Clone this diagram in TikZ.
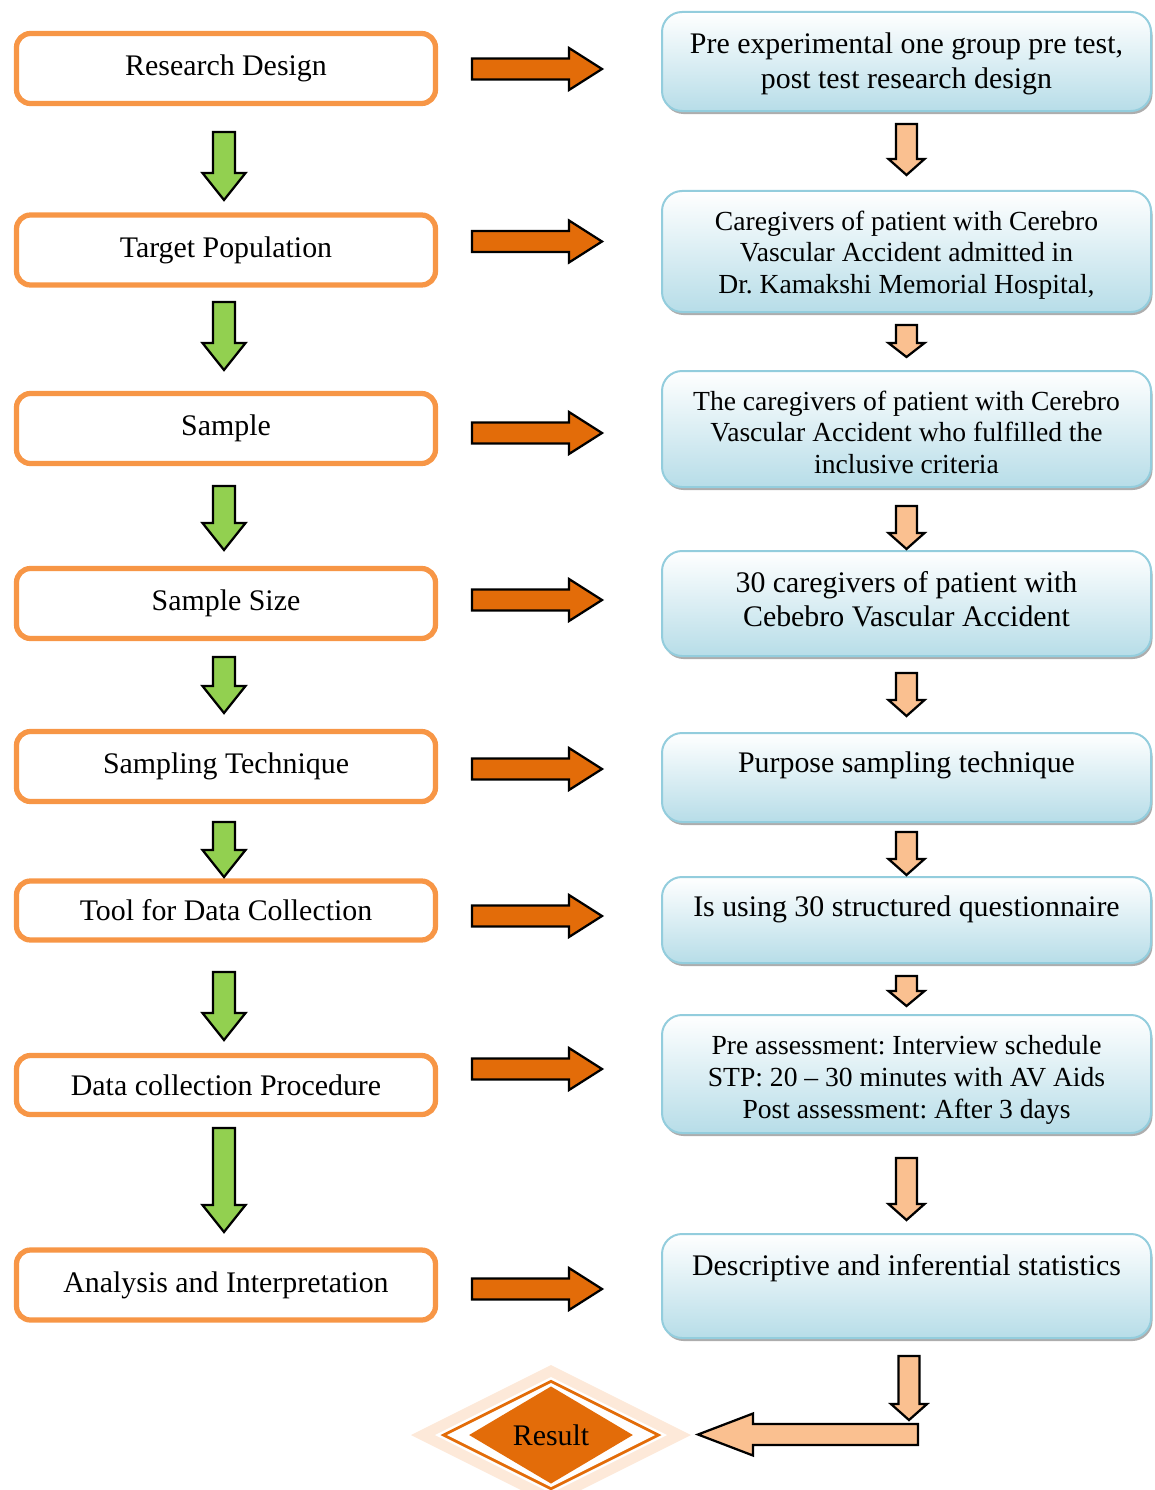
\documentclass[tikz,border=0pt]{standalone}
\usepackage{fontspec}
\setmainfont{Liberation Serif}
\frenchspacing
\usetikzlibrary{calc,shapes.geometric,shadows}

\definecolor{boxorange}{RGB}{247,150,70}
\definecolor{arroworange}{RGB}{227,108,9}
\definecolor{arrowgreen}{RGB}{146,208,80}
\definecolor{arrowpeach}{RGB}{250,192,144}
\definecolor{palepeach}{RGB}{253,233,217}
\definecolor{blueline}{RGB}{147,205,221}
\definecolor{bluebottom}{RGB}{183,221,232}

% block arrows: style, from, tip, half shaft, half head, head length
\newcommand{\blockv}[6]{\draw[#1] ($(#2)+(-#4,0)$) -- ($(#2)+(#4,0)$) -- ($(#3)+(#4,-#6)$) -- ($(#3)+(#5,-#6)$) -- (#3) -- ($(#3)+(-#5,-#6)$) -- ($(#3)+(-#4,-#6)$) -- cycle;}
\newcommand{\blockh}[6]{\draw[#1] ($(#2)+(0,-#4)$) -- ($(#3)+({-(#6)},-#4)$) -- ($(#3)+({-(#6)},-#5)$) -- (#3) -- ($(#3)+({-(#6)},#5)$) -- ($(#3)+({-(#6)},#4)$) -- ($(#2)+(0,#4)$) -- cycle;}
% text of a right box: height, first baseline, lines
\newcommand{\rtext}[3]{\parbox[c][#1][t]{97.8mm}{\centering\rule{0pt}{#2}#3}}

\begin{document}
\begin{tikzpicture}[x=0.2mm, y=-0.2mm,
    lbox/.style={draw=boxorange, line width=1.05mm, rounded corners=2.8mm, fill=white,
                 minimum width=83.8mm, minimum height=14mm, font=\fontsize{17}{19.4}\selectfont},
    rbox/.style={draw=blueline, line width=0.4mm, rounded corners=4mm, top color=white,
                 bottom color=bluebottom, inner sep=0pt,
                 drop shadow={shadow xshift=0.3mm, shadow yshift=-0.6mm, fill=gray!80, opacity=0.8}},
    bigtext/.style={font=\fontsize{17}{19.4}\selectfont},
    smalltext/.style={font=\fontsize{15.7}{18.1}\selectfont},
    greenarrow/.style={fill=arrowgreen, draw=black, line width=0.45mm},
    orangearrow/.style={fill=arroworange, draw=black, line width=0.45mm},
    peacharrow/.style={fill=arrowpeach, draw=black, line width=0.45mm}]

\useasboundingbox (0,0) rectangle (1155,1490);

% steps
\node[lbox] (design) at (226,68.5) {Research Design};
\node[lbox] (population) at (226,250) {Target Population};
\node[lbox] (sample) at (226,428.5) {Sample};
\node[lbox] (size) at (226,603.5) {Sample Size};
\node[lbox] (technique) at (226,766.5) {Sampling Technique};
\node[lbox, minimum height=11.8mm] (tool) at (226,910.5) {Tool for Data Collection};
\node[lbox, minimum height=11.8mm] (procedure) at (226,1085) {Data collection Procedure};
\node[lbox] (analysis) at (226,1285) {Analysis and Interpretation};

% details
\node[rbox, bigtext] (designR) at (906.5,61.5) {\rtext{19.8mm}{8.4mm}{Pre experimental one group pre test,\\ post test research design}};
\node[rbox, smalltext] (populationR) at (906.5,251.5) {\rtext{24.2mm}{7.8mm}{Caregivers of patient with Cerebro\\ Vascular Accident admitted in\\ Dr. Kamakshi Memorial Hospital,}};
\node[rbox, smalltext] (sampleR) at (906.5,429) {\rtext{23.2mm}{7.8mm}{The caregivers of patient with Cerebro\\ Vascular Accident who fulfilled the\\ inclusive criteria}};
\node[rbox, bigtext] (sizeR) at (906.5,603.5) {\rtext{21mm}{8.2mm}{30 caregivers of patient with\\ Cebebro Vascular Accident}};
\node[rbox, bigtext] (techniqueR) at (906.5,777.5) {\rtext{17.8mm}{7.9mm}{Purpose sampling technique}};
\node[rbox, bigtext] (toolR) at (906.5,920) {\rtext{17.2mm}{7.9mm}{Is using 30 structured questionnaire}};
\node[rbox, smalltext] (procedureR) at (906.5,1074) {\rtext{23.6mm}{7.9mm}{Pre assessment: Interview schedule\\ STP: 20 -- 30 minutes with AV Aids\\ Post assessment: After 3 days}};
\node[rbox, bigtext] (analysisR) at (906.5,1286) {\rtext{20.8mm}{8.2mm}{Descriptive and inferential statistics}};

% arrow ends
\coordinate (g1a) at (224,132);  \coordinate (g1b) at (224,200);
\coordinate (g2a) at (224,302);  \coordinate (g2b) at (224,370);
\coordinate (g3a) at (224,486);  \coordinate (g3b) at (224,550);
\coordinate (g4a) at (224,657);  \coordinate (g4b) at (224,713);
\coordinate (g5a) at (224,822);  \coordinate (g5b) at (224,877);
\coordinate (g6a) at (224,972);  \coordinate (g6b) at (224,1040);
\coordinate (g7a) at (224,1128); \coordinate (g7b) at (224,1232);

\coordinate (o1a) at (472,69);     \coordinate (o1b) at (602,69);
\coordinate (o2a) at (472,241.5);  \coordinate (o2b) at (602,241.5);
\coordinate (o3a) at (472,433);    \coordinate (o3b) at (602,433);
\coordinate (o4a) at (472,600);    \coordinate (o4b) at (602,600);
\coordinate (o5a) at (472,769);    \coordinate (o5b) at (602,769);
\coordinate (o6a) at (472,916);    \coordinate (o6b) at (602,916);
\coordinate (o7a) at (472,1069);   \coordinate (o7b) at (602,1069);
\coordinate (o8a) at (472,1289);   \coordinate (o8b) at (602,1289);

\coordinate (p1a) at (906.5,124);  \coordinate (p1b) at (906.5,175);
\coordinate (p2a) at (906.5,325);  \coordinate (p2b) at (906.5,357);
\coordinate (p3a) at (906.5,506);  \coordinate (p3b) at (906.5,549);
\coordinate (p4a) at (906.5,673);  \coordinate (p4b) at (906.5,716);
\coordinate (p5a) at (906.5,832);  \coordinate (p5b) at (906.5,875);
\coordinate (p6a) at (906.5,976);  \coordinate (p6b) at (906.5,1006);
\coordinate (p7a) at (906.5,1158); \coordinate (p7b) at (906.5,1220);
\coordinate (p8a) at (909,1356);   \coordinate (p8b) at (909,1420);
\coordinate (l1a) at (918,1434.5); \coordinate (l1b) at (698,1434.5);

% arrows
\blockv{greenarrow}{g1a}{g1b}{11}{21.5}{27}
\blockv{greenarrow}{g2a}{g2b}{11}{21.5}{27}
\blockv{greenarrow}{g3a}{g3b}{11}{21.5}{27}
\blockv{greenarrow}{g4a}{g4b}{11}{21.5}{27}
\blockv{greenarrow}{g5a}{g5b}{11}{21.5}{27}
\blockv{greenarrow}{g6a}{g6b}{11}{21.5}{27}
\blockv{greenarrow}{g7a}{g7b}{11}{21.5}{27}

\blockh{orangearrow}{o1a}{o1b}{10.5}{21}{33}
\blockh{orangearrow}{o2a}{o2b}{10.5}{21}{33}
\blockh{orangearrow}{o3a}{o3b}{10.5}{21}{33}
\blockh{orangearrow}{o4a}{o4b}{10.5}{21}{33}
\blockh{orangearrow}{o5a}{o5b}{10.5}{21}{33}
\blockh{orangearrow}{o6a}{o6b}{10.5}{21}{33}
\blockh{orangearrow}{o7a}{o7b}{10.5}{21}{33}
\blockh{orangearrow}{o8a}{o8b}{10.5}{21}{33}

\blockv{peacharrow}{p1a}{p1b}{10.5}{18}{16}
\blockv{peacharrow}{p2a}{p2b}{10.5}{18}{14}
\blockv{peacharrow}{p3a}{p3b}{10.5}{18}{16}
\blockv{peacharrow}{p4a}{p4b}{10.5}{18}{16}
\blockv{peacharrow}{p5a}{p5b}{10.5}{18}{16}
\blockv{peacharrow}{p6a}{p6b}{10.5}{18}{15}
\blockv{peacharrow}{p7a}{p7b}{10.5}{18}{16}
\blockh{peacharrow}{l1a}{l1b}{10.5}{21}{-55}
\blockv{peacharrow}{p8a}{p8b}{10.5}{18}{16}

% result
\fill[palepeach] (411,1435) -- (551,1365) -- (691,1435) -- (551,1505) -- cycle;
\fill[white] (435,1435) -- (551,1377) -- (667,1435) -- (551,1493) -- cycle;
\fill[arroworange] (440.5,1435) -- (551,1379.75) -- (661.5,1435) -- (551,1490.25) -- cycle;
\fill[white] (447,1435) -- (551,1383) -- (655,1435) -- (551,1487) -- cycle;
\node[diamond, fill=arroworange, inner sep=0pt, minimum width=32.8mm, minimum height=16.4mm,
      font=\fontsize{17}{19.4}\selectfont] (result) at (551,1435) {Result};

\end{tikzpicture}
\end{document}
